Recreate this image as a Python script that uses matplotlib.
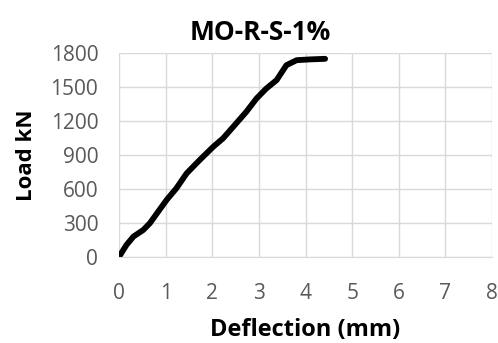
import matplotlib.pyplot as plt
import numpy as np

# deflection (mm) vs load (kN)
deflection = [0.0, 0.16, 0.31, 0.52, 0.66, 1.02, 1.23, 1.45, 1.73, 2.02, 2.23, 2.45,
              2.73, 2.95, 3.16, 3.38, 3.59, 3.81, 4.1, 4.42]
load = [0, 106, 180, 238, 297, 503, 606, 738, 856, 973, 1047, 1150,
        1282, 1400, 1488, 1562, 1694, 1738, 1745, 1750]
xticks = [0, 1, 2, 3, 4, 5, 6, 7, 8]
yticks = [0, 300, 600, 900, 1200, 1500, 1800]

plt.rcParams['font.family'] = ['Open Sans', 'DejaVu Sans']

fig = plt.figure(figsize=(4.98, 3.43), dpi=100)
ax = fig.add_axes([0.239, 0.251, 0.749, 0.594])
ax.plot(deflection, load, color='black', linewidth=4.2, solid_capstyle='round')

ax.set_xlim(0, 8)
ax.set_ylim(0, 1800)
ax.set_xticks(xticks)
ax.set_yticks(yticks)
ax.grid(True, color='#d9d9d9', linewidth=1)
ax.set_axisbelow(True)
for s in ['top', 'right', 'left']:
    ax.spines[s].set_visible(False)
ax.spines['bottom'].set_color('#d9d9d9')
ax.tick_params(length=0, labelsize=15, labelcolor='#595959', pad=15)
ax.tick_params(axis='x', pad=19)

fig.text(0.522, 0.905, 'MO-R-S-1%', fontsize=19, fontweight='bold',
         ha='center', va='center')
ax.set_xlabel('Deflection (mm)', fontsize=17, fontweight='bold', labelpad=10)
ax.set_ylabel('Load kN', fontsize=16, fontweight='bold', labelpad=10)

fig.savefig('out.png', dpi=100)
